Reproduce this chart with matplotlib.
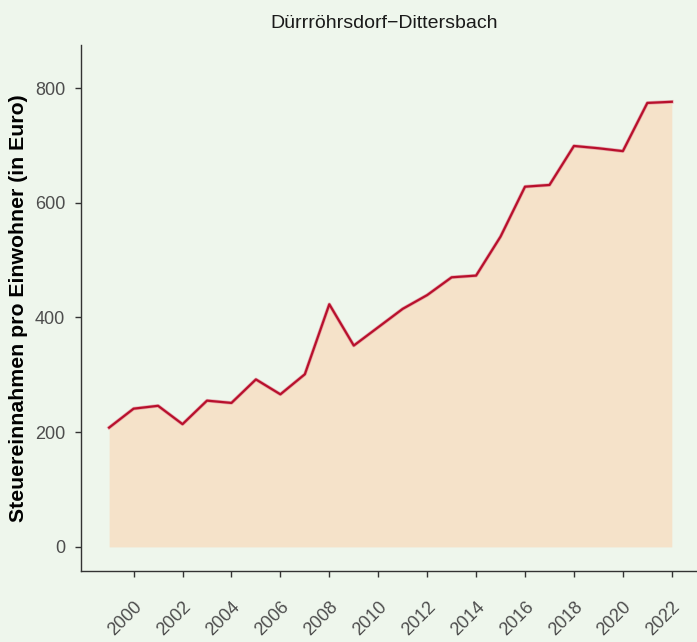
import matplotlib
matplotlib.use('Agg')
import matplotlib.pyplot as plt
from matplotlib.transforms import ScaledTranslation

# Steuereinnahmen je Einwohner
jahre = list(range(1999, 2023))
werte = [208, 241, 246, 214, 255, 251, 292, 266, 301, 423, 351, 383,
         415, 439, 470, 473, 541, 628, 631, 699, 695, 690, 774, 776]
xticks = list(range(2000, 2023, 2))
yticks = [0, 200, 400, 600, 800]
titel = 'Dürrröhrsdorf\u2212Dittersbach'
ylabel = 'Steuereinnahmen pro Einwohner (in Euro)'

bg = '#EEF6EC'
plt.rcParams['font.family'] = ['Liberation Sans', 'DejaVu Sans']

fig = plt.figure(figsize=(6.97, 6.42), dpi=100, facecolor=bg)
ax = fig.add_axes([81/697, 1 - 571/642, 1 - 81/697, (571 - 45)/642])
ax.set_facecolor(bg)

ax.fill_between(jahre, 0, werte, color='#F5E2C9', lw=0)
ax.plot(jahre, werte, color='#E07A8A', lw=2.6, alpha=0.6)
ax.plot(jahre, werte, color='#B8102C', lw=1.6)

ax.set_xlim(1997.85, 2023.03)
ax.set_ylim(-42, 875)
ax.set_xticks(xticks)
ax.set_yticks(yticks)

for s in ['top', 'right']:
    ax.spines[s].set_visible(False)
for s in ['left', 'bottom']:
    ax.spines[s].set_color('#333333')
    ax.spines[s].set_linewidth(1.0)

ax.tick_params(axis='both', colors='#333333', length=4.3, width=1.0, labelcolor='#4D4D4D', labelsize=13)
ax.tick_params(axis='y', pad=7)
ax.tick_params(axis='x', pad=20)
for lab in ax.get_xticklabels():
    lab.set_rotation(45)
    lab.set_rotation_mode('anchor')
    lab.set_ha('right')
    lab.set_va('center')
    lab.set_transform(lab.get_transform() + ScaledTranslation(6/100, 0, fig.dpi_scale_trans))

ax.set_ylabel(ylabel, fontsize=15.3, fontweight='bold', color='black', labelpad=5)
ax.set_title(titel, fontsize=14, color='#1A1A1A', pad=12, x=0.492)

fig.savefig('out.png', dpi=100, facecolor=bg)
